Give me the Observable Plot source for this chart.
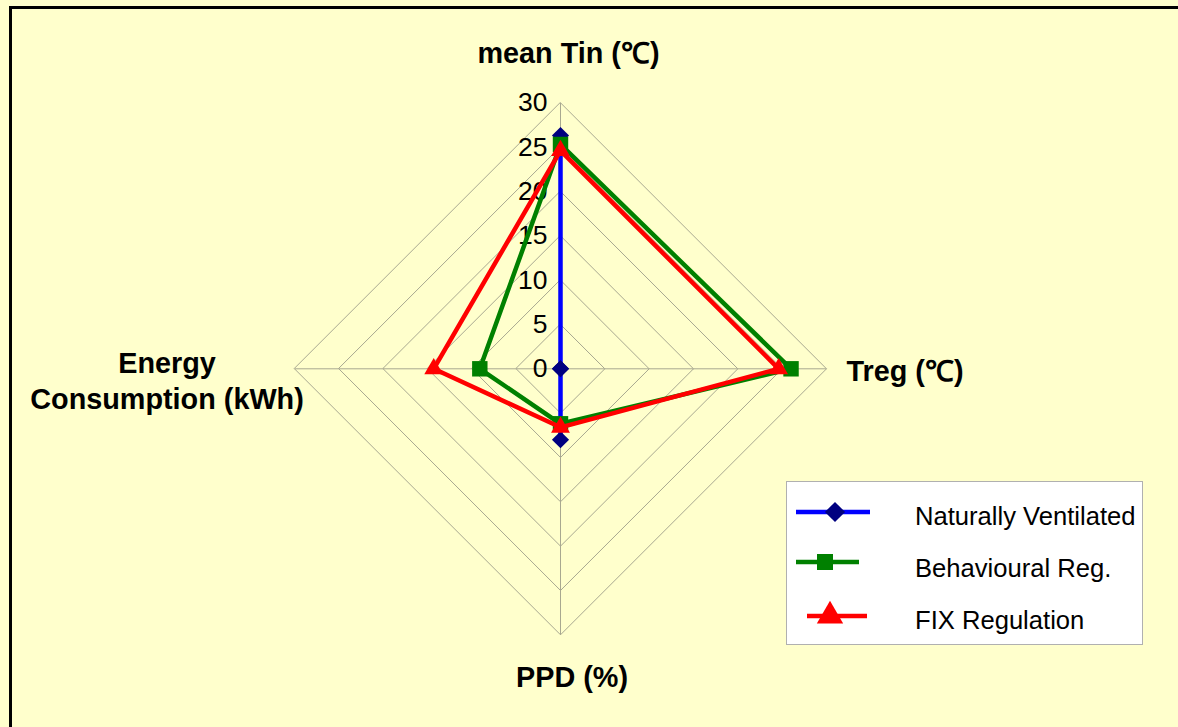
<!DOCTYPE html>
<html>
<head>
<meta charset="utf-8">
<script src="https://cdn.jsdelivr.net/npm/d3@7"></script>
<script src="https://cdn.jsdelivr.net/npm/@observablehq/plot@0.6"></script>
<style>
  html, body { margin: 0; padding: 0; background: #FFFFCC; overflow: hidden; }
  body { width: 1178px; height: 727px; position: relative; font-family: "Liberation Sans", Arial, sans-serif; }
  #chart { position: absolute; left: 0; top: 0; }
  #legend { position: absolute; left: 0; top: 0; }
</style>
</head>
<body>
<div id="chart"></div>
<div id="legend"></div>
<script>
// ---- data ----
const axisLabels = ["mean Tin (℃)", "Treg (℃)", "PPD (%)", "Energy\nConsumption (kWh)"];
const seriesNames = ["Naturally Ventilated", "Behavioural Reg.", "FIX Regulation"];
const naturallyVentilated = [26.3, 0, 8.0, 0];
const behaviouralReg = [25.3, 26.0, 6.2, 9.1];
const fixRegulation = [24.6, 24.6, 6.6, 14.3];
const tickValues = [0, 5, 10, 15, 20, 25, 30];
const maxValue = 30;

// ---- geometry helpers ----
const W = 1178, H = 727;
const cx = 560, cy = 368.3, R = 266;
const K = R / maxValue; // px per unit
const dirs = axisLabels.map((_, i) => {
  const a = Math.PI / 2 - i * Math.PI / 2;
  return [Math.round(Math.cos(a)), Math.round(Math.sin(a))];
});
const pt = (i, v) => ({x: dirs[i][0] * v, y: dirs[i][1] * v});

const gridRows = tickValues.filter(t => t > 0).flatMap(t => axisLabels.map((_, i) => ({level: t, ...pt(i, t)})));
const spokes = axisLabels.map((_, i) => ({x1: 0, y1: 0, x2: pt(i, maxValue).x, y2: pt(i, maxValue).y}));

const seriesDefs = [
  {name: seriesNames[0], values: naturallyVentilated, line: "#0000FF", mark: "#000080", symbol: "diamond2", r: 7.7},
  {name: seriesNames[1], values: behaviouralReg, line: "#008000", mark: "#008000", symbol: "square", r: 8.7},
  {name: seriesNames[2], values: fixRegulation, line: "#FF0000", mark: "#FF0000", symbol: "triangle", r: 7.0}
];

const marks = [
  Plot.line(gridRows, {x: "x", y: "y", z: "level", curve: "linear-closed", stroke: "#a8a890", strokeWidth: 1}),
  Plot.link(spokes, {x1: "x1", y1: "y1", x2: "x2", y2: "y2", stroke: "#a8a890", strokeWidth: 1}),
  Plot.text(tickValues, {x: 0, y: d => d, text: d => String(d), textAnchor: "end", dx: -13, fontSize: 26.5, fill: "#000"})
];
for (const s of seriesDefs) {
  const rows = s.values.map((v, i) => pt(i, v));
  marks.push(Plot.line(rows, {x: "x", y: "y", curve: "linear-closed", stroke: s.line, strokeWidth: 4.5, strokeLinejoin: "miter"}));
  marks.push(Plot.dot(rows, {x: "x", y: "y", symbol: s.symbol, r: s.r, fill: s.mark, stroke: "none"}));
}
// axis labels
const labelPos = [
  {i: 0, dx: 8, dy: -51, anchor: "middle"},
  {i: 1, dx: 20, dy: 1, anchor: "start"},
  {i: 2, dx: 11.5, dy: 40.7, anchor: "middle"},
  {i: 3, dx: -127.5, dy: 11, anchor: "middle"}
];
for (const l of labelPos) {
  marks.push(Plot.text([axisLabels[l.i]], {
    x: pt(l.i, maxValue).x, y: pt(l.i, maxValue).y, text: d => d,
    dx: l.dx, dy: l.dy, textAnchor: l.anchor, fontSize: 28.8, fontWeight: "bold", lineHeight: 1.24, fill: "#000"
  }));
}

const chart = Plot.plot({
  width: W, height: H,
  margin: 0,
  style: {background: "transparent", fontFamily: "'Liberation Sans', Arial, sans-serif", overflow: "visible"},
  x: {type: "linear", domain: [-cx / K, (W - cx) / K], range: [0, W], axis: null},
  y: {type: "linear", domain: [cy / K, -(H - cy) / K], range: [0, H], axis: null},
  marks
});
document.getElementById("chart").appendChild(chart);

// ---- legend and outer frame ----
const lg = d3.select("#legend").append("svg").attr("width", W).attr("height", H)
  .style("font-family", "'Liberation Sans', Arial, sans-serif");
lg.append("path").attr("d", `M10.5,${H}V7.5H${W}`).attr("fill", "none").attr("stroke", "#000").attr("stroke-width", 3);
lg.append("rect").attr("x", 786.5).attr("y", 481.5).attr("width", 356).attr("height", 163)
  .attr("fill", "#fff").attr("stroke", "#b0b0b0").attr("stroke-width", 1);
const legendRows = [
  {y: 512, x1: 796, x2: 870, mx: 835, sym: d3.symbolDiamond2, size: 260, text: 518},
  {y: 562, x1: 796, x2: 859, mx: 825, sym: d3.symbolSquare, size: 256, text: 570},
  {y: 616, x1: 807, x2: 867, mx: 830, sym: d3.symbolTriangle, size: 300, text: 622}
];
seriesDefs.forEach((s, k) => {
  const r = legendRows[k];
  lg.append("line").attr("x1", r.x1).attr("x2", r.x2).attr("y1", r.y).attr("y2", r.y)
    .attr("stroke", s.line).attr("stroke-width", 4.5);
  lg.append("path").attr("d", d3.symbol(r.sym, r.size)()).attr("transform", `translate(${r.mx},${r.y})`)
    .attr("fill", s.mark);
  lg.append("text").attr("x", 915).attr("y", r.text).attr("dominant-baseline", "middle")
    .attr("font-size", 25.6).attr("fill", "#000").text(s.name);
});
</script>
</body>
</html>
